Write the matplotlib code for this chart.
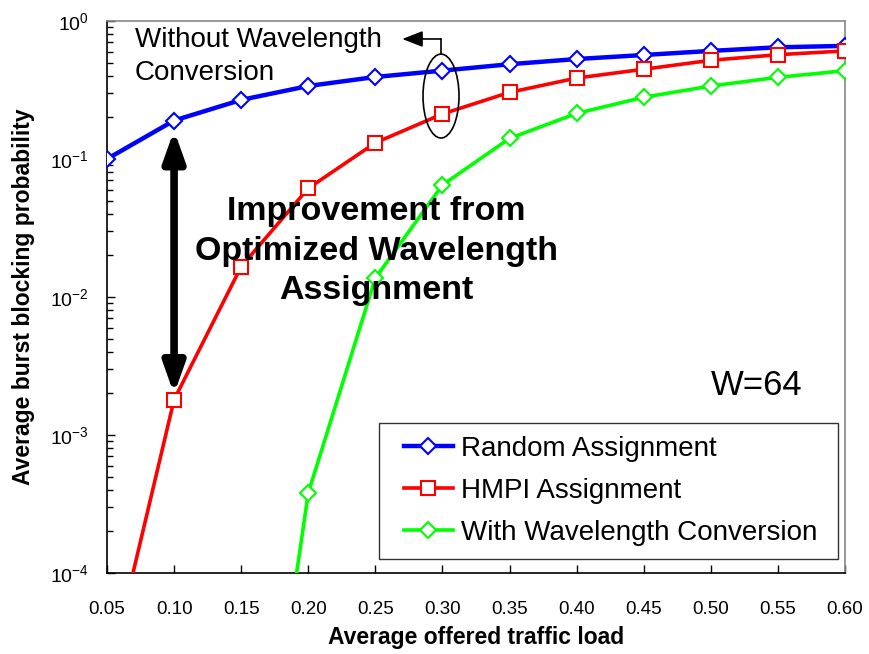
import numpy as np
import matplotlib
matplotlib.use("Agg")
import matplotlib.pyplot as plt
from matplotlib.patches import Ellipse, Rectangle
from matplotlib.ticker import LogLocator, FixedLocator, NullFormatter

plt.rcParams['font.family'] = ['Liberation Sans', 'DejaVu Sans']
plt.rcParams['mathtext.default'] = 'regular'

# offered load and blocking probability per scheme
load = [0.05, 0.10, 0.15, 0.20, 0.25, 0.30, 0.35, 0.40, 0.45, 0.50, 0.55, 0.60]
random_assign = [0.100, 0.190, 0.268, 0.338, 0.393, 0.437, 0.486, 0.530, 0.567, 0.607, 0.645, 0.660]
hmpi_assign = [1.6e-5, 1.8e-3, 0.0166, 0.0613, 0.131, 0.212, 0.304, 0.386, 0.447, 0.519, 0.570, 0.607]
conv_load = [0.15, 0.20, 0.25, 0.30, 0.35, 0.40, 0.45, 0.50, 0.55, 0.60]
with_conversion = [1.7e-7, 3.8e-4, 0.0137, 0.0648, 0.141, 0.214, 0.280, 0.338, 0.391, 0.436]

xtick_labels = ['0.05', '0.10', '0.15', '0.20', '0.25', '0.30',
                '0.35', '0.40', '0.45', '0.50', '0.55', '0.60']
ytick_vals = [1e-4, 1e-3, 1e-2, 1e-1, 1e0]
ytick_labels = ['$10^{-4}$', '$10^{-3}$', '$10^{-2}$', '$10^{-1}$', '$10^{0}$']

fig = plt.figure(figsize=(8.69, 6.54), dpi=100)
ax = fig.add_axes([0.1231, 0.1239, 0.8493, 0.8440])

ax.plot(load, random_assign, color='#0000ff', lw=3.2, marker='D', ms=8,
        mfc='white', mec='#0000ff', mew=1.5, label='Random Assignment', zorder=4)
ax.plot(load, hmpi_assign, color='#ff0000', lw=2.6, marker='s', ms=10,
        mfc='white', mec='#ff0000', mew=1.5, label='HMPI Assignment', zorder=4)
ax.plot(conv_load, with_conversion, color='#00ff00', lw=2.6, marker='D', ms=8,
        mfc='white', mec='#00ff00', mew=1.5, label='With Wavelength Conversion', zorder=4)

ax.set_yscale('log')
ax.set_xlim(0.05, 0.60)
ax.set_ylim(1e-4, 1e0)

ax.xaxis.set_major_locator(FixedLocator(load))
ax.set_xticklabels(xtick_labels)
ax.yaxis.set_major_locator(FixedLocator(ytick_vals))
ax.set_yticklabels(ytick_labels)
ax.yaxis.set_minor_locator(LogLocator(base=10, subs=np.arange(2, 10)))
ax.yaxis.set_minor_formatter(NullFormatter())
ax.tick_params(axis='x', which='major', direction='in', length=6, width=1,
               labelsize=13.5, pad=20)
ax.tick_params(axis='y', which='major', direction='in', length=6, width=1,
               labelsize=14, pad=13)
ax.tick_params(axis='y', which='minor', direction='in', length=4, width=1)

for side in ('left', 'bottom'):
    ax.spines[side].set_color('black')
    ax.spines[side].set_linewidth(1.2)
for side in ('top', 'right'):
    ax.spines[side].set_color('#888888')
    ax.spines[side].set_linewidth(1.2)

ax.set_xlabel('Average offered traffic load', fontsize=16.5, fontweight='bold', labelpad=6)
ax.set_ylabel('Average burst blocking probability', fontsize=16.5, fontweight='bold', labelpad=11)

# double-headed arrow between the two assignment schemes at load 0.10
ax.annotate('', xy=(0.10, hmpi_assign[1]), xytext=(0.10, random_assign[1]),
            arrowprops=dict(arrowstyle='<|-|>,head_length=0.9,head_width=0.32',
                            lw=5.5, color='black', shrinkA=7, shrinkB=4,
                            mutation_scale=20), zorder=5)
ax.text(0.2505, 10 ** -1.667, 'Improvement from\nOptimized Wavelength\nAssignment',
        ha='center', va='center', fontsize=24.5, fontweight='bold',
        linespacing=1.36, zorder=6)

# ellipse around the load 0.30 points, with an elbow pointer to its caption
ax.add_patch(Ellipse((0.4526, 0.864), 0.0488, 0.152, transform=ax.transAxes,
                     fill=False, ec='black', lw=1.2, zorder=5))
ax.plot([0.4526, 0.4526], [0.940, 0.9674], color='black', lw=1.2,
        transform=ax.transAxes, zorder=5, clip_on=False)
ax.annotate('', xy=(0.400, 0.9674), xytext=(0.4526, 0.9674),
            xycoords='axes fraction', textcoords='axes fraction',
            arrowprops=dict(arrowstyle='-|>,head_length=0.9,head_width=0.35',
                            lw=1.2, color='black', shrinkA=0, shrinkB=0,
                            mutation_scale=14), zorder=5)
ax.text(0.0379, 0.9357, 'Without Wavelength\nConversion', transform=ax.transAxes,
        ha='left', va='center', fontsize=20, linespacing=1.33)

ax.text(0.5344, 10 ** (-(386 - 21) / 138), 'W=64', ha='center', va='center',
        fontsize=25)

# legend: box drawn separately so its padding can be wider than the entries need
ax.add_patch(Rectangle((0.3686, 0.0254), 0.6219, 0.2463, transform=ax.transAxes,
                       fc='white', ec='#333333', lw=1.0, zorder=6))
leg = ax.legend(loc='center left', bbox_to_anchor=(0.4024, 0.1486), fontsize=20,
                frameon=False, handlelength=1.75, handletextpad=0.3, borderpad=0.0,
                labelspacing=0.58, borderaxespad=0.0)
leg.set_zorder(7)

fig.savefig('out.png', dpi=100)
